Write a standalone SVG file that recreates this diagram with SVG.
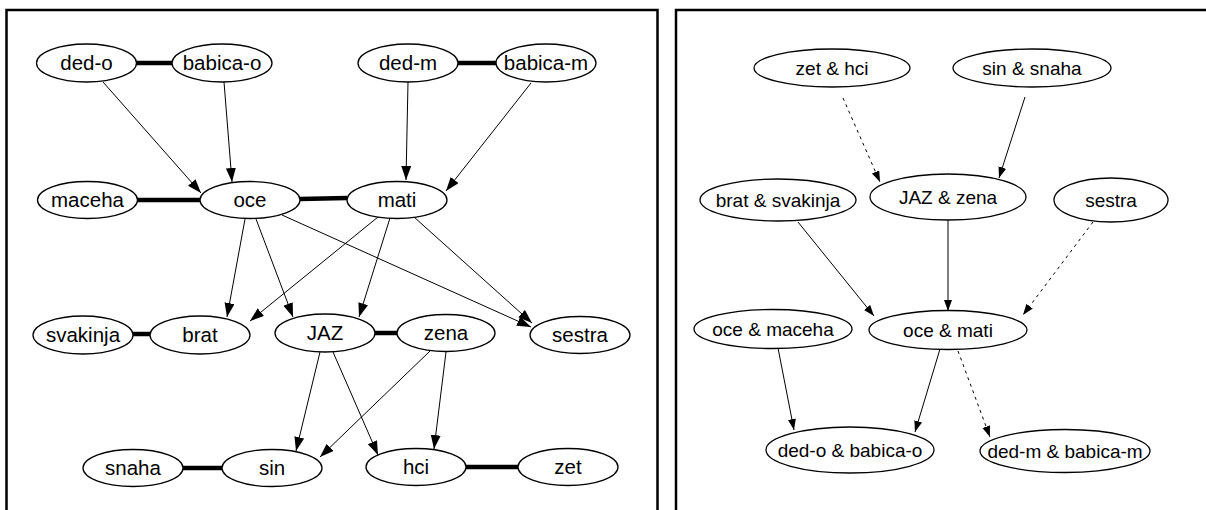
<svg xmlns="http://www.w3.org/2000/svg" width="1206" height="510" viewBox="0 0 1206 510">
<defs>
<marker id="ah" markerWidth="15" markerHeight="11" refX="14" refY="5" orient="auto" markerUnits="userSpaceOnUse">
<path d="M0,0 L14,5 L0,10 Z" fill="#000"/>
</marker>
<marker id="ahs" markerWidth="12" markerHeight="9" refX="11" refY="4" orient="auto" markerUnits="userSpaceOnUse">
<path d="M0,0 L11,4 L0,8 Z" fill="#000"/>
</marker>
<style>
.n ellipse{fill:#fff;stroke:#000;stroke-width:1.3}
.n text{font-family:"Liberation Sans",Arial,sans-serif;text-anchor:middle;fill:#000}
.L text{font-size:20.5px}
.R text{font-size:19px}
.e{stroke:#000;stroke-width:1;fill:none;marker-end:url(#ah)}
.s{marker-end:url(#ahs)}
.d{stroke-dasharray:3,4}
.m{stroke:#000;stroke-width:4.5}
.frame{fill:none;stroke:#000;stroke-width:2.5}
</style>
</defs>
<rect x="0" y="0" width="1206" height="510" fill="#fff"/>
<rect class="frame" x="6.5" y="10" width="651" height="520"/>
<rect class="frame" x="676" y="10" width="560" height="520"/>

<g id="connectors">
<line class="m" x1="136" y1="63" x2="173" y2="63"/>
<line class="m" x1="457" y1="63" x2="496" y2="63"/>
<line class="m" x1="137" y1="200" x2="200" y2="200"/>
<line class="m" x1="300" y1="199" x2="347" y2="198"/>
<line class="m" x1="133" y1="334" x2="151" y2="334"/>
<line class="m" x1="375" y1="333" x2="397" y2="333"/>
<line class="m" x1="183" y1="468" x2="222" y2="468"/>
<line class="m" x1="466" y1="467" x2="518" y2="467"/>

<line class="e" x1="103" y1="82" x2="201" y2="193"/>
<line class="e" x1="224" y1="82" x2="232" y2="182"/>
<line class="e" x1="408" y1="82" x2="406" y2="180"/>
<line class="e" x1="531" y1="83" x2="446" y2="191"/>
<line class="e" x1="245" y1="219" x2="227" y2="317"/>
<line class="e" x1="378" y1="217" x2="250" y2="321"/>
<line class="e" x1="256" y1="219" x2="293" y2="317"/>
<line class="e" x1="390" y1="218" x2="359" y2="317"/>
<line class="e" x1="282" y1="215" x2="531" y2="327"/>
<line class="e" x1="414" y1="217" x2="532" y2="323"/>
<line class="e" x1="320" y1="352" x2="296" y2="451"/>
<line class="e" x1="430" y1="351" x2="320" y2="457"/>
<line class="e" x1="333" y1="352" x2="378" y2="455"/>
<line class="e" x1="446" y1="352" x2="434" y2="449"/>

<line class="e s d" x1="843" y1="98" x2="880" y2="182"/>
<line class="e s" x1="1025" y1="97" x2="999" y2="178"/>
<line class="e s" x1="798" y1="222" x2="874" y2="316"/>
<line class="e s" x1="948" y1="220" x2="948" y2="311"/>
<line class="e s d" x1="1093" y1="222" x2="1023" y2="315"/>
<line class="e s" x1="778" y1="348" x2="794" y2="430"/>
<line class="e s" x1="940" y1="349" x2="915" y2="432"/>
<line class="e s d" x1="958" y1="351" x2="990" y2="437"/>
</g>

<g class="n L">
<g id="ded-o"><ellipse cx="86.5" cy="63" rx="50" ry="19"/><text x="86.5" y="70">ded-o</text></g>
<g id="babica-o"><ellipse cx="222" cy="63" rx="50" ry="19"/><text x="222" y="70">babica-o</text></g>
<g id="ded-m"><ellipse cx="408" cy="63" rx="50" ry="19"/><text x="408" y="70">ded-m</text></g>
<g id="babica-m"><ellipse cx="546" cy="63" rx="50" ry="19"/><text x="546" y="70">babica-m</text></g>
<g id="maceha"><ellipse cx="87.5" cy="200" rx="50" ry="18.5"/><text x="87.5" y="207">maceha</text></g>
<g id="oce"><ellipse cx="250" cy="200" rx="50" ry="18.5"/><text x="250" y="207">oce</text></g>
<g id="mati"><ellipse cx="397" cy="200" rx="50" ry="18.5"/><text x="397" y="207">mati</text></g>
<g id="svakinja"><ellipse cx="83" cy="335" rx="50" ry="19"/><text x="83" y="342">svakinja</text></g>
<g id="brat"><ellipse cx="200" cy="335" rx="50" ry="19"/><text x="200" y="342">brat</text></g>
<g id="JAZ"><ellipse cx="325" cy="333" rx="50" ry="19"/><text x="325" y="340">JAZ</text></g>
<g id="zena"><ellipse cx="446" cy="333" rx="49" ry="18.5"/><text x="446" y="340">zena</text></g>
<g id="sestra"><ellipse cx="580" cy="335" rx="50" ry="18.5"/><text x="580" y="342">sestra</text></g>
<g id="snaha"><ellipse cx="133" cy="468" rx="50" ry="18.5"/><text x="133" y="475">snaha</text></g>
<g id="sin"><ellipse cx="272" cy="468" rx="50" ry="18.5"/><text x="272" y="475">sin</text></g>
<g id="hci"><ellipse cx="416" cy="467" rx="50" ry="18.5"/><text x="416" y="474">hci</text></g>
<g id="zet"><ellipse cx="568" cy="467" rx="50" ry="18.5"/><text x="568" y="474">zet</text></g>
</g>

<g class="n R">
<g id="zet-hci"><ellipse cx="832" cy="68" rx="78" ry="19"/><text x="832" y="75">zet &amp; hci</text></g>
<g id="sin-snaha"><ellipse cx="1032" cy="68" rx="79" ry="19"/><text x="1032" y="75">sin &amp; snaha</text></g>
<g id="brat-svakinja"><ellipse cx="778" cy="200" rx="78" ry="21"/><text x="778" y="207">brat &amp; svakinja</text></g>
<g id="JAZ-zena"><ellipse cx="948" cy="197" rx="78" ry="23"/><text x="948" y="204">JAZ &amp; zena</text></g>
<g id="sestra-r"><ellipse cx="1111" cy="200" rx="57" ry="22"/><text x="1111" y="207">sestra</text></g>
<g id="oce-maceha"><ellipse cx="773" cy="329" rx="79" ry="19.5"/><text x="773" y="336">oce &amp; maceha</text></g>
<g id="oce-mati"><ellipse cx="948" cy="330" rx="79" ry="19.5"/><text x="948" y="337">oce &amp; mati</text></g>
<g id="ded-o-babica-o"><ellipse cx="850" cy="450" rx="84" ry="23"/><text x="850" y="457">ded-o &amp; babica-o</text></g>
<g id="ded-m-babica-m"><ellipse cx="1065" cy="451" rx="85" ry="21.5"/><text x="1065" y="458">ded-m &amp; babica-m</text></g>
</g>
</svg>
